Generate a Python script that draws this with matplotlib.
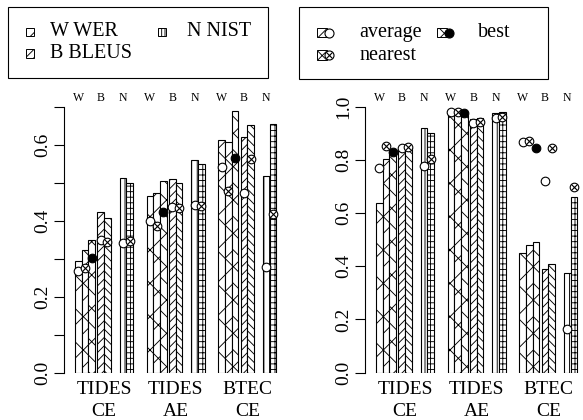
import matplotlib
matplotlib.use("Agg")
import matplotlib.pyplot as plt
from matplotlib.patches import Rectangle
from matplotlib.lines import Line2D

plt.rcParams["font.family"] = ["Liberation Serif", "DejaVu Serif"]
plt.rcParams["hatch.linewidth"] = 0.65

# data
groups = ["TIDES\nCE", "TIDES\nAE", "BTEC\nCE"]
metrics = ["W", "B", "N"]
types = ["average", "nearest", "best"]

# left panel: bars per group, [average, nearest, (best)]
left_bar_W = [[0.293, 0.322, 0.349], [0.465, 0.474, 0.505], [0.612, 0.607, 0.689]]
left_bar_B = [[0.422, 0.407], [0.509, 0.499], [0.620, 0.653]]
left_bar_N = [[0.512, 0.500], [0.561, 0.550], [0.518, 0.654]]
left_pt_W = [[0.267, 0.275, 0.302], [0.400, 0.385, 0.424], [0.543, 0.478, 0.565]]
left_pt_B = [[0.349, 0.344], [0.436, 0.434], [0.473, 0.564]]
left_pt_N = [[0.342, 0.347], [0.441, 0.439], [0.278, 0.417]]

# right panel
right_bar_W = [[0.637, 0.803, 0.838], [0.975, 0.975, 0.970], [0.449, 0.480, 0.493]]
right_bar_B = [[0.838, 0.844], [0.953, 0.957], [0.389, 0.409]]
right_bar_N = [[0.920, 0.903], [0.976, 0.980], [0.376, 0.660]]
right_pt_W = [[0.769, 0.854, 0.832], [0.982, 0.982, 0.978], [0.867, 0.873, 0.847]]
right_pt_B = [[0.844, 0.850], [0.939, 0.942], [0.721, 0.844]]
right_pt_N = [[0.778, 0.803], [0.957, 0.961], [0.165, 0.700]]

HATCH = {
    "W": ["/\\", "//\\", "/\\\\"],
    "B": ["////", "\\\\\\\\"],
    "N": ["|||", "+++"],
}
GROUP_START = [0, 10.75, 21.5]
SUB_START = {"W": 0, "B": 3.35, "N": 6.7}

FW, FH = 583, 420


def fx(x):
    return x / FW


def fy(y):
    return 1 - y / FH


def ya(ypx):
    # axes-y for a pixel row (axes spans 107..372.5 px)
    return (372.5 - ypx) / 265.5


def draw_point(ax, x, y, kind, size=6.2):
    if kind == "average":
        ax.plot(x, y, "o", ms=size, mfc="white", mec="black", mew=0.8, clip_on=False, zorder=4)
    elif kind == "best":
        ax.plot(x, y, "o", ms=size, mfc="black", mec="black", mew=0.8, clip_on=False, zorder=4)
    else:
        ax.plot(x, y, "o", ms=size, mfc="white", mec="black", mew=0.8, clip_on=False, zorder=4)
        ax.plot(x, y, "x", ms=size * 0.62, mec="black", mew=0.8, clip_on=False, zorder=5)


def panel(ax, bars, pts, ymax, major, minor):
    for m in metrics:
        for k in range(len(bars[m][0])):
            xs = [GROUP_START[g] + SUB_START[m] + k + 0.5 for g in range(3)]
            hs = [bars[m][g][k] for g in range(3)]
            ax.bar(xs, hs, width=1.0, color="white", edgecolor="black",
                   linewidth=0.8, hatch=HATCH[m][k], zorder=2)
            for x, v in zip(xs, [pts[m][g][k] for g in range(3)]):
                draw_point(ax, x, v, types[k])
        for g in range(3):
            ax.text(GROUP_START[g] + SUB_START[m] + 0.5, ya(98), m,
                    transform=ax.get_xaxis_transform(), ha="center", va="center",
                    fontsize=8.5)
    for g, lab in enumerate(groups):
        top, bottom = lab.split("\n")
        cx = GROUP_START[g] + 4.35
        ax.text(cx, ya(390), top, transform=ax.get_xaxis_transform(),
                ha="center", va="center", fontsize=14)
        ax.text(cx, ya(411), bottom, transform=ax.get_xaxis_transform(),
                ha="center", va="center", fontsize=14)

    ax.set_xlim(-1.6, 31.4)
    ax.set_ylim(0, ymax)
    ax.set_xticks([])
    for s in ["top", "right", "bottom"]:
        ax.spines[s].set_visible(False)
    ax.spines["left"].set_bounds(0, ymax)
    ax.spines["left"].set_linewidth(0.8)
    ax.set_yticks(major)
    ax.set_yticklabels([f"{v:.1f}" for v in major], rotation=90, va="center", fontsize=14)
    ax.set_yticks(minor, minor=True)
    ax.tick_params(which="both", axis="y", length=7.5, width=0.8, pad=2)
    ax.patch.set_visible(False)


fig = plt.figure(figsize=(FW / 100, FH / 100), dpi=100)
ax1 = fig.add_axes([fx(64.3), fy(372.5), 220 / FW, 265.5 / FH])
ax2 = fig.add_axes([fx(365.3), fy(372.5), 220 / FW, 265.5 / FH])

panel(ax1, {"W": left_bar_W, "B": left_bar_B, "N": left_bar_N},
      {"W": left_pt_W, "B": left_pt_B, "N": left_pt_N},
      0.7, [0.0, 0.2, 0.4, 0.6], [0.1, 0.3, 0.5, 0.7])
panel(ax2, {"W": right_bar_W, "B": right_bar_B, "N": right_bar_N},
      {"W": right_pt_W, "B": right_pt_B, "N": right_pt_N},
      1.0, [0.0, 0.2, 0.4, 0.6, 0.8, 1.0], [])


# legends, drawn by hand in figure pixels
def box(x0, y0, x1, y1, hatch=None, lw=0.8):
    fig.add_artist(Rectangle((fx(x0), fy(y1)), (x1 - x0) / FW, (y1 - y0) / FH,
                             transform=fig.transFigure, facecolor="white",
                             edgecolor="black", linewidth=lw, hatch=hatch))


def marker(x, y, kind):
    kw = dict(transform=fig.transFigure, linestyle="none", mec="black", mew=0.8, ms=6.5)
    if kind == "best":
        fig.add_artist(Line2D([fx(x)], [fy(y)], marker="o", mfc="black", **kw))
    else:
        fig.add_artist(Line2D([fx(x)], [fy(y)], marker="o", mfc="white", **kw))
    if kind == "nearest":
        kw["ms"] = 4
        fig.add_artist(Line2D([fx(x)], [fy(y)], marker="x", **kw))


box(8, 7, 268, 78)
legend_left = [("W WER", "//", 26, 50, 32), ("B BLEUS", "////", 26, 50, 53.5),
               ("N NIST", "|||||", 158, 187, 32)]
for text, h, ix, tx, ty in legend_left:
    box(ix, ty - 4, ix + 8, ty + 4, hatch=h, lw=0.7)
    fig.text(fx(tx), fy(ty), text, ha="left", va="center", fontsize=14.5)

box(299, 7, 548, 79)
legend_right = [("average", "///", 317, 359, 32.5), ("nearest", "///\\", 317, 359, 55),
                ("best", "xxx", 437, 478, 32.5)]
for text, h, ix, tx, ty in legend_right:
    box(ix, ty - 4.5, ix + 10, ty + 4.5, hatch=h, lw=0.7)
    marker(ix + 12, ty, text)
    fig.text(fx(tx), fy(ty), text, ha="left", va="center", fontsize=14.5)

fig.savefig("out.png", dpi=100)
